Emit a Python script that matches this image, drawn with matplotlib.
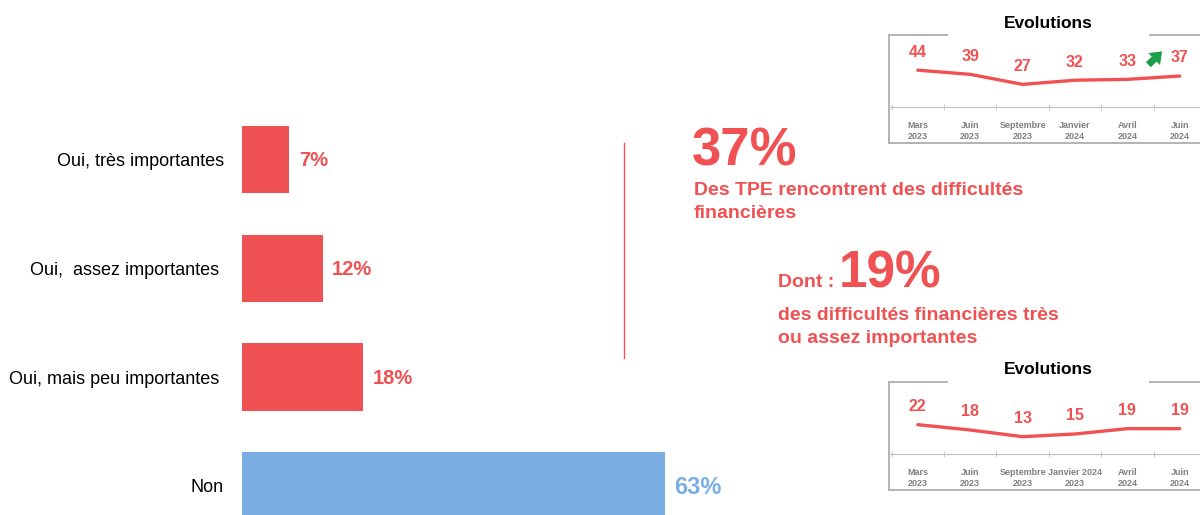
import matplotlib
matplotlib.use("Agg")
from matplotlib import pyplot as plt
from matplotlib.patches import Rectangle

plt.rcParams['font.family'] = ['Liberation Sans', 'DejaVu Sans']

# main question: difficultes financieres
categories = ["Oui, très importantes", "Oui,  assez importantes ", "Oui, mais peu importantes ", "Non"]
shares = [7, 12, 18, 63]
bar_colors = ['#F05152', '#F05152', '#F05152', '#7AAEE3']

# evolutions (insets)
periods_top = ["Mars\n2023", "Juin\n2023", "Septembre\n2023", "Janvier\n2024", "Avril\n2024", "Juin\n2024"]
evol_top = [44, 39, 27, 32, 33, 37]
periods_bottom = ["Mars\n2023", "Juin\n2023", "Septembre\n2023", "Janvier 2024\n2023", "Avril\n2024", "Juin\n2024"]
evol_bottom = [22, 18, 13, 15, 19, 19]

RED = '#F05152'
W, H = 1200, 515

fig = plt.figure(figsize=(12, 5.15), dpi=100)


def px_axes(x0, y0, x1, y1):
    return fig.add_axes([x0 / W, 1 - y1 / H, (x1 - x0) / W, (y1 - y0) / H])


def fx(px):
    return px / W


def fy(py):
    return 1 - py / H


# bar chart
ax = px_axes(242, 0, 913, 515)
pos = list(range(len(categories)))
bars = ax.barh(pos, shares, height=0.62, color=bar_colors)
ax.set_xlim(0, 100)
ax.set_ylim(3.267, -1.466)
ax.set_yticks(pos)
ax.set_yticklabels(categories, fontsize=13)
ax.tick_params(axis='y', length=0, pad=13)
ax.set_xticks([])
for s in ax.spines.values():
    s.set_visible(False)
for b, v, c in zip(bars, shares, bar_colors):
    ax.annotate("%d%%" % v, (b.get_width(), b.get_y() + b.get_height() / 2),
                xytext=(7, -1), textcoords='offset points', va='center', ha='left',
                fontsize=17 if c != RED else 14.5, fontweight='bold', color=c)

# separator
fig.add_artist(plt.Line2D([fx(623.5), fx(623.5)], [fy(143), fy(358)], color=RED, lw=1))

# key figures
fig.text(fx(692), fy(165), "37%", fontsize=38, fontweight='bold', color=RED, va='baseline')
fig.text(fx(694), fy(195), "Des TPE rencontrent des difficultés", fontsize=14, fontweight='bold', color=RED, va='baseline')
fig.text(fx(694), fy(218), "financières", fontsize=14, fontweight='bold', color=RED, va='baseline')
fig.text(fx(778), fy(287), "Dont :", fontsize=14, fontweight='bold', color=RED, va='baseline')
fig.text(fx(839), fy(287), "19%", fontsize=37, fontweight='bold', color=RED, va='baseline')
fig.text(fx(778), fy(320), "des difficultés financières très", fontsize=14, fontweight='bold', color=RED, va='baseline')
fig.text(fx(778), fy(343), "ou assez importantes", fontsize=14, fontweight='bold', color=RED, va='baseline')


def inset(top, labels, values, ymax):
    left, right = 889, 1206
    frame = px_axes(left, top, right, top + 108)
    frame.set_xticks([])
    frame.set_yticks([])
    frame.patch.set_alpha(0)
    for s in frame.spines.values():
        s.set_color('#b3b3b3')
        s.set_linewidth(1.4)

    a = px_axes(left, top, right, top + 72)
    a.patch.set_alpha(0)
    x = list(range(len(values)))
    a.plot(x, values, color=RED, lw=2.4, solid_capstyle='round')
    a.set_xlim(-0.55, 5.5)
    a.set_ylim(0, ymax)
    for k in ['top', 'left', 'right']:
        a.spines[k].set_visible(False)
    a.spines['bottom'].set_color('#bfbfbf')
    a.set_yticks([])
    a.set_xticks(x)
    a.set_xticklabels(labels, fontsize=6.5, fontweight='bold', color='#808080', linespacing=1.25)
    a.tick_params(axis='x', which='major', length=0, pad=10)
    a.set_xticks([i - 0.5 for i in range(len(values) + 1)], minor=True)
    a.tick_params(axis='x', which='minor', length=4, direction='inout', color='#bfbfbf')
    for xi, v in zip(x, values):
        a.annotate(str(v), (xi, v), xytext=(0, 13), textcoords='offset points',
                   ha='center', va='center', fontsize=11.5, fontweight='bold', color=RED)

    # title over the frame
    fig.add_artist(Rectangle((fx(948), fy(top + 3)), fx(201), 22 / H, facecolor='white',
                             edgecolor='none', transform=fig.transFigure))
    fig.text(fx(1048), fy(top - 12), "Evolutions", fontsize=12.5, fontweight='bold',
             ha='center', va='center')
    return a


a1 = inset(35, periods_top, evol_top, 86)
a1.annotate('', xy=(0.868, 0.8), xytext=(0.812, 0.56), xycoords='axes fraction',
            arrowprops=dict(arrowstyle='simple,head_width=1.2,head_length=0.8,tail_width=0.5',
                            color='#1E9E4A', lw=0))
inset(382, periods_bottom, evol_bottom, 54)

fig.savefig("out.png", dpi=100)
